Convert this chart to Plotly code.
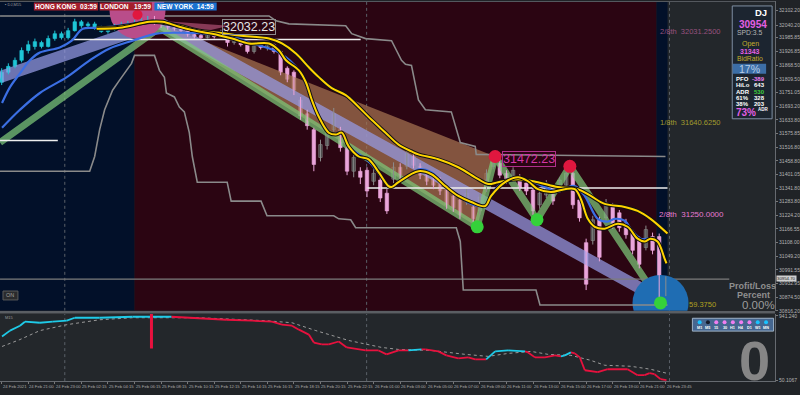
import plotly.graph_objects as go

W, H = 800, 395
FONT = "Liberation Sans"

# ---------------- data ----------------
candle_bar = list(range(0, 201, 2))
candle_open = [31795, 31838, 31863, 31889, 31931, 31948, 31965, 31948, 31982, 32003,
               31986, 32016, 32054, 32037, 32045, 32028, 32012, 32024, 32037, 32045,
               32050, 32054, 32062, 32071, 32050, 32037, 32028, 32024, 32016, 31999,
               31995, 31986, 31999, 31990, 32007, 31965, 31973, 31956, 31927, 31952,
               31944, 31956, 31927, 31855, 31838, 31719, 31660, 31592, 31473, 31524,
               31592, 31592, 31515, 31414, 31414, 31418, 31371, 31376, 31320, 31380,
               31431, 31435, 31477, 31435, 31405, 31392, 31376, 31337, 31308, 31291,
               31282, 31261, 31244, 31337, 31435, 31448, 31405, 31380, 31388, 31363,
               31333, 31270, 31312, 31346, 31342, 31354, 31405, 31291, 31108, 31117,
               31206, 31214, 31261, 31236, 31193, 31151, 31121, 31087, 31134, 31134,
               30901]
candle_close = [31838, 31863, 31889, 31931, 31956, 31969, 31948, 31982, 32003, 31986,
                32016, 32054, 32037, 32045, 32028, 32012, 32024, 32037, 32045, 32050,
                32054, 32062, 32071, 32050, 32037, 32028, 32024, 32016, 31999, 31990,
                31986, 31999, 31990, 32007, 31965, 31973, 31956, 31927, 31952, 31944,
                31956, 31927, 31838, 31808, 31761, 31651, 31609, 31443, 31528, 31583,
                31660, 31515, 31414, 31473, 31388, 31329, 31405, 31299, 31244, 31431,
                31397, 31490, 31439, 31397, 31371, 31354, 31329, 31270, 31257, 31227,
                31320, 31210, 31303, 31405, 31477, 31397, 31371, 31418, 31342, 31329,
                31244, 31320, 31363, 31286, 31376, 31405, 31270, 31214, 30930, 31206,
                31045, 31278, 31185, 31172, 31142, 31075, 31015, 31164, 31075, 30926,
                30952]
candle_high = [31855, 31876, 31901, 31944, 31973, 31982, 31973, 31995, 32016, 32012,
               32028, 32067, 32062, 32054, 32054, 32037, 32033, 32045, 32054, 32058,
               32062, 32071, 32079, 32079, 32058, 32045, 32037, 32033, 32020, 32012,
               32003, 32007, 32012, 32020, 32012, 31986, 31982, 31965, 31961, 31965,
               31965, 31961, 31931, 31863, 31846, 31732, 31677, 31600, 31549, 31600,
               31685, 31604, 31528, 31486, 31431, 31431, 31422, 31388, 31337, 31452,
               31448, 31507, 31490, 31448, 31418, 31405, 31388, 31354, 31320, 31308,
               31337, 31274, 31316, 31422, 31490, 31460, 31418, 31431, 31401, 31376,
               31346, 31337, 31376, 31359, 31388, 31422, 31431, 31303, 31125, 31223,
               31219, 31295, 31278, 31248, 31210, 31164, 31134, 31181, 31151, 31147,
               30964]
candle_low = [31783, 31829, 31855, 31880, 31918, 31935, 31940, 31944, 31973, 31978,
              31978, 32012, 32028, 32028, 32020, 32007, 32003, 32016, 32028, 32037,
              32041, 32045, 32054, 32041, 32028, 32020, 32016, 32007, 31990, 31982,
              31978, 31982, 31982, 31986, 31948, 31956, 31948, 31918, 31918, 31935,
              31931, 31918, 31825, 31795, 31740, 31634, 31592, 31414, 31456, 31507,
              31583, 31498, 31397, 31388, 31359, 31303, 31354, 31282, 31231, 31363,
              31380, 31422, 31426, 31380, 31354, 31337, 31312, 31253, 31240, 31210,
              31270, 31189, 31227, 31325, 31422, 31384, 31359, 31367, 31329, 31312,
              31227, 31253, 31299, 31270, 31329, 31342, 31253, 31198, 30905, 31100,
              31028, 31202, 31168, 31155, 31125, 31058, 30998, 31075, 31058, 30871,
              30879]

ma_slow_bar = [28.6, 35.5, 45.4, 48.4, 53.5, 59.5, 65.5, 71.5, 80.5, 84.4, 88.6, 92.5, 95.5,
               99.4, 103.6, 107.5, 111.4, 115.6, 119.5, 123.4, 125.5, 131.5, 137.5, 143.5,
               146.5, 149.5, 155.5, 161.5, 167.5, 173.5, 177.4, 181.6, 187.6, 191.5, 195.4, 200.5]
ma_slow_val = [32028, 32033, 32054, 32050, 32037, 32016, 32007, 31995, 31982, 31961, 31918,
               31859, 31817, 31770, 31740, 31689, 31634, 31579, 31528, 31499, 31486, 31465,
               31431, 31380, 31359, 31367, 31380, 31367, 31346, 31337, 31308, 31274, 31261,
               31244, 31210, 31147]

ma_fast_bar = [28.6, 35.5, 44.5, 48.4, 53.5, 59.5, 63.4, 69.4, 74.5, 80.5, 83.5, 85.6, 89.5,
               91.6, 93.4, 95.5, 98.5, 100.6, 102.4, 104.5, 107.5, 110.5, 113.5, 116.5, 117.4,
               119.5, 125.5, 129.4, 133.6, 137.5, 141.4, 145.6, 147.4, 151.6, 155.5, 158.5,
               161.5, 165.4, 169.6, 172.6, 174.4, 176.5, 178.6, 181.6, 185.5, 188.5, 191.5,
               193.6, 195.4, 197.5, 199.6, 200.2]
ma_fast_val = [32024, 32028, 32054, 32054, 32033, 32012, 32003, 31982, 31961, 31961, 31931,
               31889, 31846, 31795, 31719, 31647, 31579, 31571, 31579, 31520, 31477, 31465,
               31410, 31350, 31346, 31367, 31414, 31401, 31350, 31308, 31282, 31265, 31308,
               31367, 31388, 31371, 31337, 31325, 31337, 31337, 31295, 31210, 31176, 31168,
               31189, 31176, 31125, 31113, 31125, 31113, 31041, 31019]

blue_fast_bar = [0.1, 2.5, 5.5, 8.5, 11.5, 17.5, 21.1, 24.4, 28.6, 34.6, 41.5, 46, 49, 59.5,
                 67.6, 74.5, 83.5, 89.5, 93.4, 95.5, 99.4, 102.4, 104.5, 110.5, 117.4, 119.5,
                 123.4, 125.5, 129.4, 133.6, 137.5, 141.4, 145.6, 147.4, 149.5, 152.5, 155.5,
                 159.4, 163.6, 167.5, 170.5, 172.6, 175.6, 179.5, 182.5, 184.6, 187.6, 189.4,
                 192.4, 195.4, 197.5]
blue_fast_val = [31706, 31774, 31833, 31889, 31922, 31944, 31973, 32024, 32028, 32037, 32050,
                 32058, 32050, 32016, 32003, 31965, 31922, 31846, 31719, 31647, 31571, 31579,
                 31520, 31456, 31346, 31367, 31401, 31422, 31410, 31350, 31308, 31274, 31265,
                 31308, 31350, 31371, 31380, 31371, 31346, 31325, 31346, 31350, 31308, 31210,
                 31198, 31210, 31202, 31168, 31125, 31125, 31113]

blue_slow_bar = [0.1, 5.5, 11.5, 19.6, 26.5, 32.5, 39.4, 46.6, 53.5, 61.6, 68.5]
blue_slow_val = [31600, 31677, 31749, 31817, 31889, 31940, 31973, 32003, 32007, 32003, 31990]

upper_ch_bar = [-0.5, 80.5, 82.6, 86.5, 103.6, 105.4, 109.6, 117.4, 118.9, 120.4, 121.6, 123.4,
                125.5, 127.6, 135.4, 138.1, 142.6, 142.9, 199.9]
upper_ch_val = [32079, 32079, 32058, 32045, 32037, 32003, 31982, 31973, 31931, 31889, 31872,
                31867, 31719, 31677, 31668, 31537, 31520, 31486, 31477]

lower_ch_bar = [-0.5, 26.5, 28, 29.5, 31, 33.4, 35.5, 37.6, 39.1, 40, 46, 47.5, 49, 49.6, 52,
                53.5, 55, 56.5, 57.4, 58.9, 67.9, 69.1, 78.1, 79.9, 100, 101.5, 105.1, 106.6,
                136.9, 138.1, 139, 160.9, 162.1, 200.5]
lower_ch_val = [31414, 31414, 31477, 31592, 31677, 31761, 31804, 31846, 31876, 31910, 31910,
                31846, 31816, 31749, 31732, 31689, 31668, 31579, 31477, 31367, 31367, 31286,
                31286, 31223, 31223, 31210, 31206, 31172, 31172, 31113, 30905, 30905, 30841,
                30841]

green_band_bar = [-0.5, 47.5, 143.2, 148.6, 161.2, 171.1, 198.4]
green_band_val = [31537, 32028, 31176, 31477, 31206, 31435, 30850]

lav_band_bar = [-0.5, 47.5, 196.0]
lav_band_val = [31817, 32050, 30884]

brown_bar = [48.4, 148.6, 143.2, 48.4]
brown_val = [32041, 31477, 31176, 32020]

mauve_bar = [47.5, 68.5, 61.0]
mauve_val = [32058, 32037, 32012]

swing_high_bar = [40.9, 148.6, 171.1]
swing_high_val = [32084, 31477, 31435]
swing_low_bar = [143.2, 161.2, 198.4]
swing_low_val = [31176, 31206, 30850]

level_start = [21.1, -0.5, 109.9]
level_end = [108.1, 16.9, 200.5]
level_price = [31978, 31545, 31342]
last_price = 30952

price_ticks = [32102.20, 32040.20, 31985.85, 31926.85, 31868.50, 31809.50, 31751.05, 31693.20,
               31633.80, 31575.85, 31516.80, 31458.80, 31401.05, 31341.80, 31283.80, 31224.20,
               31166.55, 31108.00, 31049.20, 30991.55, 30932.95, 30874.50, 30816.20]

time_tick_bar = list(range(0, 201, 8))
time_tick_labels = ["24 Feb 2021", "24 Feb 21:00", "24 Feb 23:00", "25 Feb 02:15", "25 Feb 04:15",
                    "25 Feb 06:15", "25 Feb 08:15", "25 Feb 10:15", "25 Feb 12:15", "25 Feb 14:15",
                    "25 Feb 16:15", "25 Feb 18:15", "25 Feb 20:15", "25 Feb 22:15", "26 Feb 01:00",
                    "26 Feb 03:00", "26 Feb 05:00", "26 Feb 07:00", "26 Feb 09:00", "26 Feb 11:00",
                    "26 Feb 13:00", "26 Feb 15:00", "26 Feb 17:00", "26 Feb 19:00", "26 Feb 21:00",
                    "26 Feb 23:45"]

osc_bar = [0.1, 2.5, 5.5, 7, 11.5, 15.4, 19.6, 22, 29.5, 39.4, 51.1,
           67.6, 75.4, 81.4, 84.4, 87.4, 89.5, 92.5, 94, 96.4, 98.5, 101.5, 103.9, 109.6, 113.5,
           115.9, 119.5, 122.5, 126.4, 127.6, 131.5, 133.9, 137.5, 140.5, 142.6, 145.9,
           148.6, 152.5, 157.6, 158.5, 160.6, 163.6, 166.6, 168.4, 169.6, 171.4,
           172.6, 174.1, 175.6, 179.5, 182.5, 188.5, 191.5, 193.6, 195.1, 196.6, 198.4, 200.2]
osc_val = [653, 736, 804, 859, 845, 859, 873, 914, 914, 928, 928,
           886, 873, 859, 818, 804, 749, 681, 571, 544, 544, 585, 503, 461, 461,
           407, 461, 461, 475, 475, 448, 393, 352, 365, 338, 338,
           448, 461, 448, 434, 365, 365, 393, 379, 393, 434,
           420, 365, 187, 160, 201, 201, 119, 119, 146, 132, 64, 50]
osc_up = [1] * 11 + [0] * 17 + [1] + [0] * 7 + [1] * 3 + [0] * 5 + [1] * 2 + [0] * 12

sig_bar = [0.1, 5.5, 11.5, 19.6, 29.5, 39.4, 59.5, 79.6, 87.4, 94.6, 104.5, 114.4, 119.5,
           129.4, 139.6, 146.5, 152.5, 159.4, 164.5, 171.4, 177.4, 181.6, 189.4, 195.4, 200.2]
sig_val = [516, 612, 736, 818, 886, 914, 914, 873, 845, 736, 599, 503, 475,
           461, 407, 379, 420, 448, 407, 393, 324, 256, 242, 201, 146]

spike_bar = 45.1
spike_top, spike_bottom = 968, 489

tf_labels = ["M1", "M5", "15", "30", "H1", "H4", "D1", "W1", "MN"]
tf_colors = ["#19c3ff", "#151a28", "#f07ef0", "#f07ef0", "#f07ef0", "#f07ef0", "#f07ef0", "#19c3ff", "#19c3ff"]

# ---------------- figure ----------------
XR = [-0.51, 232.9]
YR = [30816, 32143]
Y2R = [36.4, 968.7]

fig = go.Figure()

fig.add_trace(go.Scatter(x=brown_bar, y=brown_val, fill="toself", mode="lines",
                         fillcolor="rgba(165,115,80,0.72)", line=dict(width=0)))
fig.add_trace(go.Scatter(x=mauve_bar, y=mauve_val, fill="toself", mode="lines",
                         fillcolor="rgba(175,80,115,0.7)", line=dict(width=0)))
fig.add_trace(go.Scatter(x=lav_band_bar, y=lav_band_val, mode="lines",
                         line=dict(color="rgba(150,155,230,0.72)", width=12)))
fig.add_trace(go.Scatter(x=green_band_bar, y=green_band_val, mode="lines",
                         line=dict(color="rgba(125,200,120,0.72)", width=7)))
fig.add_trace(go.Scatter(x=[-0.5, 219.1], y=[last_price, last_price], mode="lines",
                         line=dict(color="#7d7d7d", width=1.2)))
fig.add_trace(go.Scatter(x=[swing_low_bar[2]], y=[swing_low_val[2]], mode="markers",
                         marker=dict(size=56, color="#1f6db3", line=dict(width=0))))
fig.add_trace(go.Scatter(x=upper_ch_bar, y=upper_ch_val, mode="lines",
                         line=dict(color="#8a8a8a", width=1.6)))
fig.add_trace(go.Scatter(x=lower_ch_bar, y=lower_ch_val, mode="lines",
                         line=dict(color="#8a8a8a", width=1.6)))
lx, ly = [], []
for s, e, p in zip(level_start, level_end, level_price):
    lx += [s, e, None]
    ly += [p, p, None]
fig.add_trace(go.Scatter(x=lx, y=ly, mode="lines", line=dict(color="#eeeeee", width=1.5)))
fig.add_trace(go.Scatter(x=[swing_high_bar[0]], y=[32101], mode="markers",
                         marker=dict(size=56, color="#b94d8a", line=dict(width=0))))

groups = {"cyan": dict(fill="#1fc6d6", line="#1fc6d6"),
          "pink": dict(fill="#eaa5da", line="#eaa5da"),
          "gray": dict(fill="#444444", line="#8c8c8c")}
for g, col in groups.items():
    bx, bb, bh, wx, wy = [], [], [], [], []
    for k, o, hi, lo, c in zip(candle_bar, candle_open, candle_high, candle_low, candle_close):
        if k < 46:
            grp = "cyan"
        elif c >= o:
            grp = "gray"
        else:
            grp = "pink"
        if grp != g:
            continue
        bx.append(k)
        bb.append(min(o, c))
        bh.append(max(abs(c - o), 4))
        wx += [k, k, None]
        wy += [lo, hi, None]
    fig.add_trace(go.Scatter(x=wx, y=wy, mode="lines", line=dict(color=col["line"], width=1)))
    fig.add_trace(go.Bar(x=bx, y=bh, base=bb, width=1.05,
                         marker=dict(color=col["fill"], line=dict(color=col["line"], width=0.6))))

fig.add_trace(go.Scatter(x=blue_slow_bar, y=blue_slow_val, mode="lines",
                         line=dict(color="#3b6fe4", width=2.2, shape="spline")))
fig.add_trace(go.Scatter(x=blue_fast_bar, y=blue_fast_val, mode="lines",
                         line=dict(color="#3b6fe4", width=2.2, shape="spline")))
for bars, vals in [(ma_slow_bar, ma_slow_val), (ma_fast_bar, ma_fast_val)]:
    fig.add_trace(go.Scatter(x=bars, y=vals, mode="lines",
                             line=dict(color="#111111", width=4, shape="spline")))
    fig.add_trace(go.Scatter(x=bars, y=vals, mode="lines",
                             line=dict(color="#ffd400", width=2, shape="spline")))

fig.add_trace(go.Scatter(x=swing_high_bar[:1], y=swing_high_val[:1], mode="markers",
                         marker=dict(size=10, color="#e0173f")))
fig.add_trace(go.Scatter(x=swing_high_bar[1:], y=swing_high_val[1:], mode="markers",
                         marker=dict(size=13, color="#e0173f")))
fig.add_trace(go.Scatter(x=swing_low_bar, y=swing_low_val, mode="markers",
                         marker=dict(size=13, color="#35d13a")))

# ---------------- sub panel ----------------
cx, cy, rx, ry = [], [], [], []
for j in range(1, len(osc_bar)):
    if osc_up[j]:
        cx += [osc_bar[j - 1], osc_bar[j], None]
        cy += [osc_val[j - 1], osc_val[j], None]
    else:
        rx += [osc_bar[j - 1], osc_bar[j], None]
        ry += [osc_val[j - 1], osc_val[j], None]
fig.add_trace(go.Scatter(x=sig_bar, y=sig_val, mode="lines", xaxis="x2", yaxis="y2",
                         line=dict(color="#9a9a9a", width=1, dash="dot")))
fig.add_trace(go.Scatter(x=rx, y=ry, mode="lines", xaxis="x2", yaxis="y2",
                         line=dict(color="#e8113e", width=1.8)))
fig.add_trace(go.Scatter(x=cx, y=cy, mode="lines", xaxis="x2", yaxis="y2",
                         line=dict(color="#1fcbe8", width=1.8)))
fig.add_trace(go.Scatter(x=[spike_bar, spike_bar], y=[spike_top, spike_bottom], mode="lines",
                         xaxis="x2", yaxis="y2", line=dict(color="#e8113e", width=3)))

# ---------------- shapes ----------------
shapes = []
for x0, x1, colr in [(XR[0], 40, "#021029"), (40, 197.2, "#2b0512"), (197.2, 200.5, "#021029")]:
    shapes.append(dict(type="rect", xref="x", yref="y", x0=x0, x1=x1, y0=YR[0], y1=YR[1],
                       fillcolor=colr, line=dict(width=0), layer="below"))
for k in [19.0, 109.9, 201.1]:
    shapes.append(dict(type="line", xref="x", yref="y", x0=k, x1=k, y0=YR[0], y1=YR[1],
                       line=dict(color="#5b6169", width=1, dash="dot"), layer="below"))
    shapes.append(dict(type="line", xref="x2", yref="y2", x0=k, x1=k, y0=Y2R[0], y1=Y2R[1],
                       line=dict(color="#5b6169", width=1, dash="dot"), layer="below"))


def px(x):
    return x / W


def py(y):
    return 1 - y / H


shapes.append(dict(type="line", xref="paper", yref="paper", x0=0, x1=px(778), y0=py(0.5), y1=py(0.5),
                   line=dict(color="#555a60", width=1)))
shapes.append(dict(type="line", xref="paper", yref="paper", x0=0, x1=px(778), y0=py(314.5), y1=py(314.5),
                   line=dict(color="#5a5e63", width=2.5)))
for x0, x1, colr in [(34, 98.5, "#a41f2d"), (100, 152.5, "#a41f2d"), (155, 217.5, "#1a72cf")]:
    shapes.append(dict(type="rect", xref="paper", yref="paper", x0=px(x0), x1=px(x1), y0=py(9.5), y1=py(1.5),
                       fillcolor=colr, line=dict(width=0)))
shapes.append(dict(type="rect", xref="paper", yref="paper", x0=px(3), x1=px(18), y0=py(302), y1=py(293),
                   fillcolor="#2a2b2d", line=dict(color="#5a5a5a", width=1)))
shapes.append(dict(type="rect", xref="paper", yref="paper", x0=px(735), x1=px(775), y0=py(119), y1=py(5),
                   fillcolor="#1c2530", line=dict(color="#7f8fa3", width=1)))
shapes.append(dict(type="rect", xref="paper", yref="paper", x0=px(735.5), x1=px(769), y0=py(73.5), y1=py(63.5),
                   fillcolor="#3c6ea6", line=dict(width=0)))
shapes.append(dict(type="rect", xref="paper", yref="paper", x0=px(695), x1=px(776.5), y0=py(333.5), y1=py(320.5),
                   fillcolor="#466790", line=dict(color="#9fb3c8", width=1)))
tf_x = [702.3 + 8.33 * i for i in range(len(tf_labels))]
for xx, cc in zip(tf_x, tf_colors):
    shapes.append(dict(type="circle", xref="paper", yref="paper", x0=px(xx - 2), x1=px(xx + 2),
                       y0=py(326.5), y1=py(322.5), fillcolor=cc, line=dict(width=0)))

# ---------------- annotations ----------------
ann = []


def A(x, y, text, size, color, xa="center", bold=False, ya="middle", **kw):
    d = dict(x=px(x), y=py(y), xref="paper", yref="paper", text=("<b>%s</b>" % text) if bold else text,
             showarrow=False, xanchor=xa, yanchor=ya, borderpad=0,
             font=dict(size=size, color=color, family=FONT))
    d.update(kw)
    ann.append(d)


A(66, 5.5, "HONG KONG&nbsp;&nbsp;03:59", 6.6, "#ffffff", bold=True)
A(126, 5.5, "LONDON&nbsp;&nbsp;&nbsp;19:59", 6.6, "#ffffff", bold=True)
A(186, 5.5, "NEW YORK&nbsp;&nbsp;14:59", 6.6, "#ffffff", bold=True)
A(4, 4, "▪ DJ,M15", 4, "#9a9a9a", xa="left")
A(4, 320, "M15", 4, "#9a9a9a", xa="left")
A(10.5, 297.5, "ON", 5.5, "#a0a0a0")

ann.append(dict(x=74.5, y=32033, xref="x", yref="y", text="32032.23", showarrow=False,
                font=dict(size=12.5, color="#e6e6e6", family=FONT), bordercolor="#8c8c8c",
                borderwidth=1, borderpad=0))
ann.append(dict(x=158.8, y=31465, xref="x", yref="y", text="31472.23", showarrow=False,
                font=dict(size=12.5, color="#d536a8", family=FONT), bordercolor="#b02f8c",
                borderwidth=1, borderpad=0))
for xk, pv, txt, colr, sz in [(197.5, 32012, "2/8th&nbsp;&nbsp;32031.2500", "#98527f", 7.5),
                              (197.5, 31621, "1/8th&nbsp;&nbsp;31640.6250", "#a09a2e", 7.5),
                              (197.2, 31227, "2/8th&nbsp;&nbsp;31250.0000", "#e67ad2", 8),
                              (206.5, 30843, "59.3750", "#b0a020", 7.5)]:
    ann.append(dict(x=xk, y=pv, xref="x", yref="y", text=txt, showarrow=False, xanchor="left",
                    font=dict(size=sz, color=colr, family=FONT)))

ann.append(dict(x=px(779), y=30955, xref="paper", yref="y", text="30954.70", showarrow=False,
                xanchor="left", bgcolor="#cfcfcf", font=dict(size=4.3, color="#202020", family=FONT),
                borderpad=0))

for k, t in zip(time_tick_bar, time_tick_labels):
    ann.append(dict(x=k, y=py(389), xref="x", yref="paper", text=t, showarrow=False, xanchor="left",
                    yanchor="middle", borderpad=0, font=dict(size=4.2, color="#a8a8a8", family=FONT)))

A(771, 11.5, "DJ", 9.5, "#ffffff", xa="right", bold=True)
A(756, 23.5, "30954", 10, "#e35fe3", bold=True)
A(753, 31.8, "SPD:3.5", 6.8, "#b5b5b5")
A(753, 43.5, "Open", 7, "#c4ae2c")
A(753, 51, "31343", 7, "#e35fe3", bold=True)
A(753, 58, "BidRatio", 6.8, "#c4ae2c")
A(752, 68.7, "17%", 10.5, "#b9cfe6")
rows = [("PFO", "-389", "#f07ef0"), ("HiLo", "643", "#ffffff"), ("ADR", "530", "#3fd03f"),
        ("61%", "328", "#ffffff"), ("38%", "203", "#ffffff")]
for i, (lab, val, vc) in enumerate(rows):
    yy = 78.5 + 6.5 * i
    A(738, yy, lab, 6, "#ffffff", xa="left", bold=True)
    A(768.5, yy, val, 6, vc, xa="right", bold=True)
A(749, 113, "73%", 10, "#e35fe3", bold=True)
A(766, 110, "ADR", 4.5, "#ffffff", bold=True)

A(755, 288, "Profit/Loss", 9, "#8f8f8f", bold=True)
A(756, 297, "Percent", 9, "#8f8f8f", bold=True)
A(761, 307.5, "0.00%", 11.5, "#9c9c9c")
A(757, 396, "0", 56, "#868686", bold=True, ya="bottom")

for xx, lab in zip(tf_x, tf_labels):
    A(xx, 330, lab, 3.8, "#ffffff", bold=True)

fig.update_layout(
    width=W, height=H, margin=dict(l=0, r=0, t=0, b=0),
    paper_bgcolor="#202327", plot_bgcolor="#23272b",
    showlegend=False, hovermode=False, barmode="overlay",
    font=dict(family=FONT),
    shapes=shapes, annotations=ann,
    xaxis=dict(domain=[0, 778 / W], range=XR, anchor="y", showticklabels=False, showgrid=False,
               zeroline=False, showline=False, ticks=""),
    yaxis=dict(domain=[py(313), 1.0], range=YR, anchor="x", side="right", showgrid=False,
               zeroline=False, tickvals=price_ticks, ticktext=["%.2f" % v for v in price_ticks],
               tickfont=dict(size=5, color="#b4b4b4", family=FONT), ticks="outside", ticklen=2,
               tickcolor="#777777", showline=True, linecolor="#666a70", linewidth=1),
    xaxis2=dict(domain=[0, 778 / W], range=XR, anchor="y2", matches="x", showticklabels=False,
                showgrid=False, zeroline=False, showline=True, linecolor="#666a70", linewidth=1,
                tickvals=time_tick_bar, ticks="outside", ticklen=2, tickcolor="#777777"),
    yaxis2=dict(domain=[py(384), py(316)], range=Y2R, anchor="x2", side="right", showgrid=False,
                zeroline=False, tickvals=[941.24, 50.1067], ticktext=["941.240", "50.1067"],
                tickfont=dict(size=5, color="#b4b4b4", family=FONT), ticks="outside", ticklen=2,
                tickcolor="#777777", showline=True, linecolor="#666a70", linewidth=1),
)

fig.write_html("out.html", config={"displayModeBar": False})
